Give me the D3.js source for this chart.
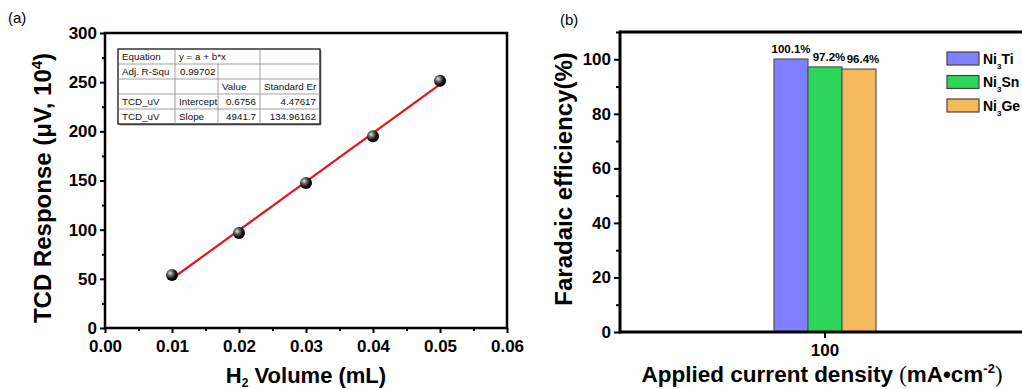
<!DOCTYPE html>
<html>
<head>
<meta charset="utf-8">
<script src="https://cdn.jsdelivr.net/npm/d3@7/dist/d3.min.js"></script>
<style>
html,body{margin:0;padding:0;background:#fff;}
svg{display:block;font-family:"Liberation Sans",Arial,sans-serif;}
</style>
</head>
<body>
<svg id="chart" width="1022" height="389"></svg>
<script>
// ---- Panel (a) data ----
const volumes = [0.01, 0.02, 0.03, 0.04, 0.05];
const responses = [54, 96.5, 147.5, 195, 251.5];
const fitIntercept = 0.6756;
const fitSlope = 4941.7;
const xTicksA = [0, 0.01, 0.02, 0.03, 0.04, 0.05, 0.06];
const yTicksA = [0, 50, 100, 150, 200, 250, 300];
const tableRows = [
  ["Equation", "y = a + b*x", "", ""],
  ["Adj. R-Squ", "0.99702", "", ""],
  ["", "", "Value", "Standard Er"],
  ["TCD_uV", "Intercept", "0.6756", "4.47617"],
  ["TCD_uV", "Slope", "4941.7", "134.96162"]
];

// ---- Panel (b) data ----
const categories = ["100"];
const seriesNames = ["Ti", "Sn", "Ge"];
const seriesValues = [100.1, 97.2, 96.4];
const seriesLabels = ["100.1%", "97.2%", "96.4%"];
const seriesColors = ["#7f7fff", "#2dd65a", "#f5b95e"];
const yTicksB = [0, 20, 40, 60, 80, 100];

const svg = d3.select("#chart");

// ================= Panel (a) =================
const xA = d3.scaleLinear().domain([0, 0.06]).range([105, 507]);
const yA = d3.scaleLinear().domain([0, 300]).range([328, 33]);

const gA = svg.append("g");

// radial gradient for spheres
const defs = svg.append("defs");
const grad = defs.append("radialGradient").attr("id", "sph")
  .attr("cx", "35%").attr("cy", "35%").attr("r", "65%");
grad.append("stop").attr("offset", "0%").attr("stop-color", "#e8e8e8");
grad.append("stop").attr("offset", "30%").attr("stop-color", "#777");
grad.append("stop").attr("offset", "70%").attr("stop-color", "#111");
grad.append("stop").attr("offset", "100%").attr("stop-color", "#000");

// frame
gA.append("rect")
  .attr("x", xA(0)).attr("y", yA(300))
  .attr("width", xA(0.06) - xA(0)).attr("height", yA(0) - yA(300))
  .attr("fill", "none").attr("stroke", "#000").attr("stroke-width", 2.5);

function styleAxis(g, fs) {
  g.select(".domain").remove();
  g.selectAll(".tick line").attr("stroke", "#000").attr("stroke-width", 2);
  g.selectAll(".tick text").attr("font-size", fs).attr("font-weight", "bold").attr("fill", "#000");
}

// x axis (a)
const xAxA = gA.append("g").attr("transform", `translate(0,${yA(0)})`)
  .call(d3.axisBottom(xA).tickValues(xTicksA).tickFormat(d3.format(".2f")).tickSize(5).tickPadding(7));
styleAxis(xAxA, 17);
gA.append("g").attr("transform", `translate(0,${yA(0)})`)
  .call(d3.axisBottom(xA).tickValues(xTicksA.slice(0, -1).map(d => d + 0.005)).tickFormat("").tickSize(3))
  .call(g => styleAxis(g, 0));

// y axis (a)
const yAxA = gA.append("g").attr("transform", `translate(${xA(0)},0)`)
  .call(d3.axisLeft(yA).tickValues(yTicksA).tickSize(5).tickPadding(3));
styleAxis(yAxA, 17);
gA.append("g").attr("transform", `translate(${xA(0)},0)`)
  .call(d3.axisLeft(yA).tickValues(yTicksA.slice(0, -1).map(d => d + 25)).tickFormat("").tickSize(3))
  .call(g => styleAxis(g, 0));

// fit line (from the fit parameters in the table)
const x0 = volumes[0], x1 = volumes[volumes.length - 1];
gA.append("line")
  .attr("x1", xA(x0)).attr("y1", yA(fitIntercept + fitSlope * x0))
  .attr("x2", xA(x1)).attr("y2", yA(fitIntercept + fitSlope * x1))
  .attr("stroke", "#e8141c").attr("stroke-width", 2.2);

// points
gA.selectAll("circle.pt").data(volumes).join("circle").attr("class", "pt")
  .attr("cx", d => xA(d)).attr("cy", (d, i) => yA(responses[i]))
  .attr("r", 6).attr("fill", "url(#sph)");

// table
const colX = [118, 175, 218, 260, 320];
const rowY = [49, 64, 79, 94, 109, 124];
const tbl = gA.append("g");
tbl.append("rect").attr("x", colX[0] + 1.5).attr("y", rowY[0] + 1.5)
  .attr("width", colX[4] - colX[0]).attr("height", rowY[5] - rowY[0]).attr("fill", "#999");
tbl.append("rect").attr("x", colX[0]).attr("y", rowY[0])
  .attr("width", colX[4] - colX[0]).attr("height", rowY[5] - rowY[0])
  .attr("fill", "#fff").attr("stroke", "#000").attr("stroke-width", 1.2);
rowY.slice(1, -1).forEach(y => tbl.append("line").attr("x1", colX[0]).attr("x2", colX[4])
  .attr("y1", y).attr("y2", y).attr("stroke", "#888").attr("stroke-width", 0.8));
tbl.append("line").attr("x1", colX[1]).attr("x2", colX[1]).attr("y1", rowY[0]).attr("y2", rowY[5]).attr("stroke", "#888").attr("stroke-width", 0.8);
tbl.append("line").attr("x1", colX[2]).attr("x2", colX[2]).attr("y1", rowY[1]).attr("y2", rowY[5]).attr("stroke", "#888").attr("stroke-width", 0.8);
tbl.append("line").attr("x1", colX[3]).attr("x2", colX[3]).attr("y1", rowY[0]).attr("y2", rowY[5]).attr("stroke", "#888").attr("stroke-width", 0.8);
tableRows.forEach((row, r) => {
  row.forEach((txt, c) => {
    if (!txt) return;
    const numeric = r >= 3 && c >= 2;
    const t = tbl.append("text")
      .attr("y", rowY[r] + 11)
      .attr("font-size", 9.8).attr("fill", "#111").text(txt);
    if (numeric) t.attr("x", colX[c + 1] - 4).attr("text-anchor", "end");
    else t.attr("x", colX[c] + (r === 1 && c === 1 ? 5 : 4));
  });
});

// axis titles (a)
gA.append("text").attr("transform", "translate(51,188) rotate(-90)")
  .attr("text-anchor", "middle").attr("font-size", 24).attr("font-weight", "bold")
  .call(t => {
    t.append("tspan").text("TCD Response (\u03BCV, 10");
    t.append("tspan").attr("dy", -9).attr("font-size", 15).text("4");
    t.append("tspan").attr("dy", 9).text(")");
  });
gA.append("text").attr("x", 306).attr("y", 383)
  .attr("text-anchor", "middle").attr("font-size", 22).attr("font-weight", "bold")
  .call(t => {
    t.append("tspan").text("H");
    t.append("tspan").attr("dy", 4).attr("font-size", 12).text("2");
    t.append("tspan").attr("dy", -4).text(" Volume (mL)");
  });
gA.append("text").attr("x", 8).attr("y", 23).attr("font-size", 15).text("(a)");

// ================= Panel (b) =================
const xB = d3.scaleBand().domain(categories).range([620, 1030]);
const yB = d3.scaleLinear().domain([0, 110]).range([332, 32]);
const barW = 34;
const xSub = d3.scaleBand().domain(seriesNames).range([0, barW * seriesNames.length]);

const gB = svg.append("g");

// bars
const catG = gB.selectAll("g.cat").data(categories).join("g")
  .attr("transform", d => `translate(${xB(d) + xB.bandwidth() / 2 - barW * seriesNames.length / 2},0)`);
catG.selectAll("rect").data(seriesNames).join("rect")
  .attr("x", d => xSub(d)).attr("y", (d, i) => yB(seriesValues[i]))
  .attr("width", xSub.bandwidth()).attr("height", (d, i) => yB(0) - yB(seriesValues[i]))
  .attr("fill", (d, i) => seriesColors[i]).attr("stroke", "#555").attr("stroke-width", 1.2);
catG.selectAll("text.lbl").data(seriesNames).join("text").attr("class", "lbl")
  .attr("x", d => xSub(d) + xSub.bandwidth() / 2 + (d === "Ti" ? 0 : 4))
  .attr("y", (d, i) => yB(seriesValues[i]) - 6)
  .attr("text-anchor", "middle").attr("font-size", 11.5).attr("font-weight", "bold")
  .text((d, i) => seriesLabels[i]);

// frame lines
gB.append("line").attr("x1", 620).attr("x2", 1022).attr("y1", yB(110)).attr("y2", yB(110))
  .attr("stroke", "#000").attr("stroke-width", 3);
gB.append("line").attr("x1", 620).attr("x2", 1022).attr("y1", yB(0)).attr("y2", yB(0))
  .attr("stroke", "#000").attr("stroke-width", 3);
gB.append("line").attr("x1", 620).attr("x2", 620).attr("y1", yB(110) - 1.5).attr("y2", yB(0) + 1.5)
  .attr("stroke", "#000").attr("stroke-width", 3);

// y axis (b)
const yAxB = gB.append("g").attr("transform", "translate(620,0)")
  .call(d3.axisLeft(yB).tickValues(yTicksB).tickSize(6).tickPadding(3));
styleAxis(yAxB, 17);
gB.append("g").attr("transform", "translate(620,0)")
  .call(d3.axisLeft(yB).tickValues(yTicksB.map(d => d + 10)).tickFormat("").tickSize(4))
  .call(g => styleAxis(g, 0));

// x axis (b)
const xAxB = gB.append("g").attr("transform", `translate(0,${yB(0)})`)
  .call(d3.axisBottom(xB).tickSize(6).tickPadding(6));
styleAxis(xAxB, 17);

// legend
const leg = gB.append("g");
seriesNames.forEach((s, i) => {
  const y0 = 52 + i * 23.5;
  leg.append("rect").attr("x", 947).attr("y", y0).attr("width", 32).attr("height", 13)
    .attr("fill", seriesColors[i]).attr("stroke", "#444").attr("stroke-width", 1.2);
  leg.append("text").attr("x", 983).attr("y", y0 + 11.5).attr("font-size", 14).attr("font-weight", "bold")
    .call(t => {
      t.append("tspan").text("Ni");
      t.append("tspan").attr("dy", 5).attr("font-size", 8).text("3");
      t.append("tspan").attr("dy", -5).text(s);
    });
});

// axis titles (b)
gB.append("text").attr("transform", "translate(572,179) rotate(-90)")
  .attr("text-anchor", "middle").attr("font-size", 24).attr("font-weight", "bold")
  .text("Faradaic efficiency(%)");
gB.append("text").attr("x", 822).attr("y", 382)
  .attr("text-anchor", "middle").attr("font-size", 22.5).attr("font-weight", "bold")
  .call(t => {
    t.append("tspan").text("Applied current density ");
    t.append("tspan").attr("font-family", "'Liberation Serif',serif").attr("font-weight", "normal").text("(");
    t.append("tspan").text("mA\u2022cm");
    t.append("tspan").attr("dy", -9).attr("font-size", 13).text("-2");
    t.append("tspan").attr("dy", 9).attr("font-family", "'Liberation Serif',serif").attr("font-weight", "normal").text(")");
  });
gB.append("text").attr("x", 560).attr("y", 25).attr("font-size", 15).text("(b)");
</script>
</body>
</html>
